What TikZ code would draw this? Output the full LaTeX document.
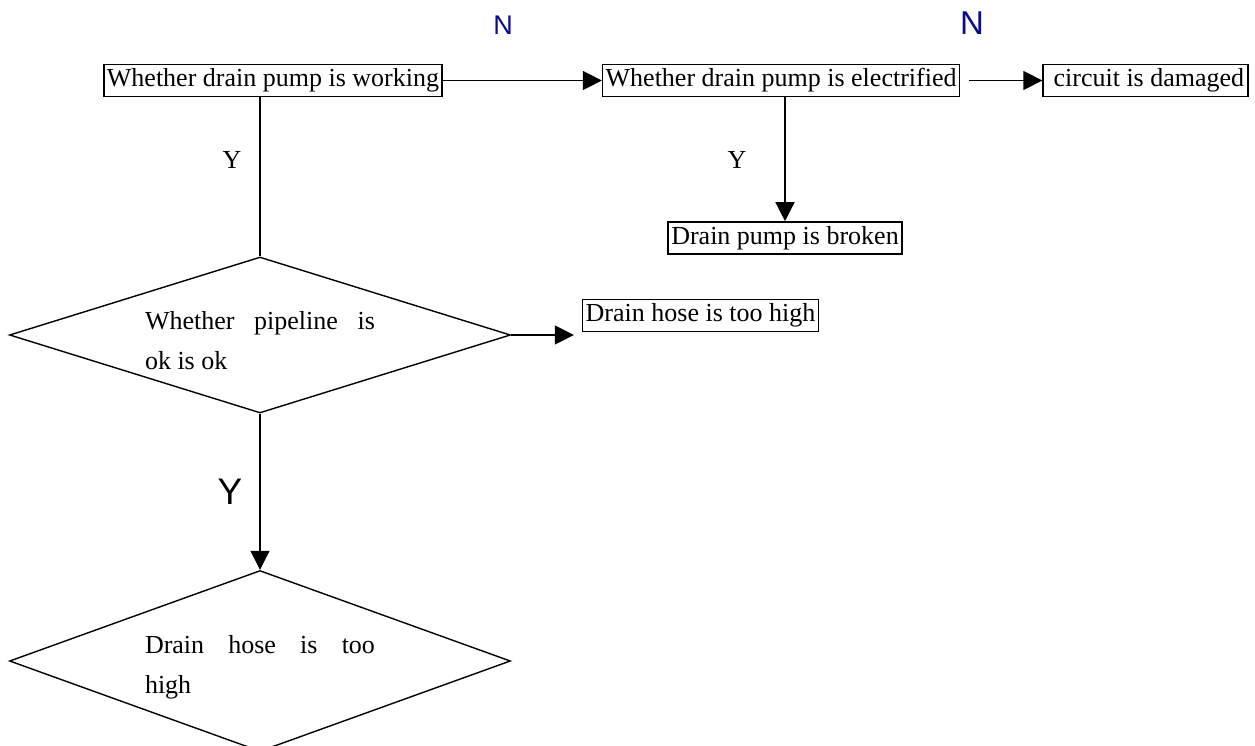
\documentclass[tikz,border=0pt]{standalone}
\usepackage{fontspec}
\setmainfont{Liberation Serif}
\newfontfamily\arialfont{Liberation Sans}
\usepackage{tikz}
\usetikzlibrary{arrows.meta,shapes.geometric,positioning}
\definecolor{navyN}{RGB}{10,10,140}

\begin{document}
\begin{tikzpicture}[x=1pt, y=-1pt]
% STYLES
\tikzset{%
    check/.style={%
        rectangle,draw,line width=1.6pt,inner xsep=3pt,inner ysep=4pt,
        text height=18pt,text depth=6pt,font=\fontsize{26}{40}\selectfont
    },
    decide/.style={%
        diamond,draw,line width=1.4pt,aspect=3.2,inner sep=0pt,
        minimum width=501pt,text width=230pt,align=justify,
        text height=30pt,font=\fontsize{26}{40}\selectfont
    },
    answer/.style={font=\fontsize{26}{30}\selectfont},
    flow/.style={line width=1.4pt,-{Triangle[length=19pt,width=19pt]}},
    plain/.style={line width=1.4pt}
}
\useasboundingbox (0,0) rectangle (1255,746);
% Draw checks
\node [check] (working) at (273,80.5) {Whether drain pump is working};
\node [check, right=159pt of working] (power) {Whether drain pump is electrified};
\node [check, right=82pt of power, minimum width=205pt] (damaged) {\ circuit is damaged};
\node [check] (broken) at (785,238) {Drain pump is broken};
\node [decide, minimum height=156pt] (pipe) at (260,335) {Whether pipeline is\linebreak ok is ok};
\node [check] (hose) at (700.5,315.5) {Drain hose is too high};
\node [decide, minimum height=181pt] (high) at (260,661) {Drain hose is too\linebreak high};
% Draw the answers
\node [answer, text=navyN, font=\arialfont\fontsize{27}{30}\selectfont] (n1) at (503,25) {N};
\node [answer, text=navyN, font=\arialfont\fontsize{33}{36}\selectfont] (n2) at (972,23) {N};
\node [answer] (y1) at (232,160) {Y};
\node [answer] (y2) at (737,160) {Y};
\node [answer, font=\arialfont\fontsize{37}{40}\selectfont] (y3) at (230,492) {Y};
% Draw the links
\draw[flow] (working) -- (power);
\draw[flow, shorten <=9pt] (power) -- (damaged);
\draw[flow] (broken.north |- power.south) -- (broken.north);
\draw[plain] (pipe.north |- working.south) -- (pipe.north);
\draw[flow, shorten >=8pt] (pipe.east) -- (pipe.east -| hose.west);
\draw[flow] (pipe.south) -- (high.north);
\end{tikzpicture}
\end{document}
